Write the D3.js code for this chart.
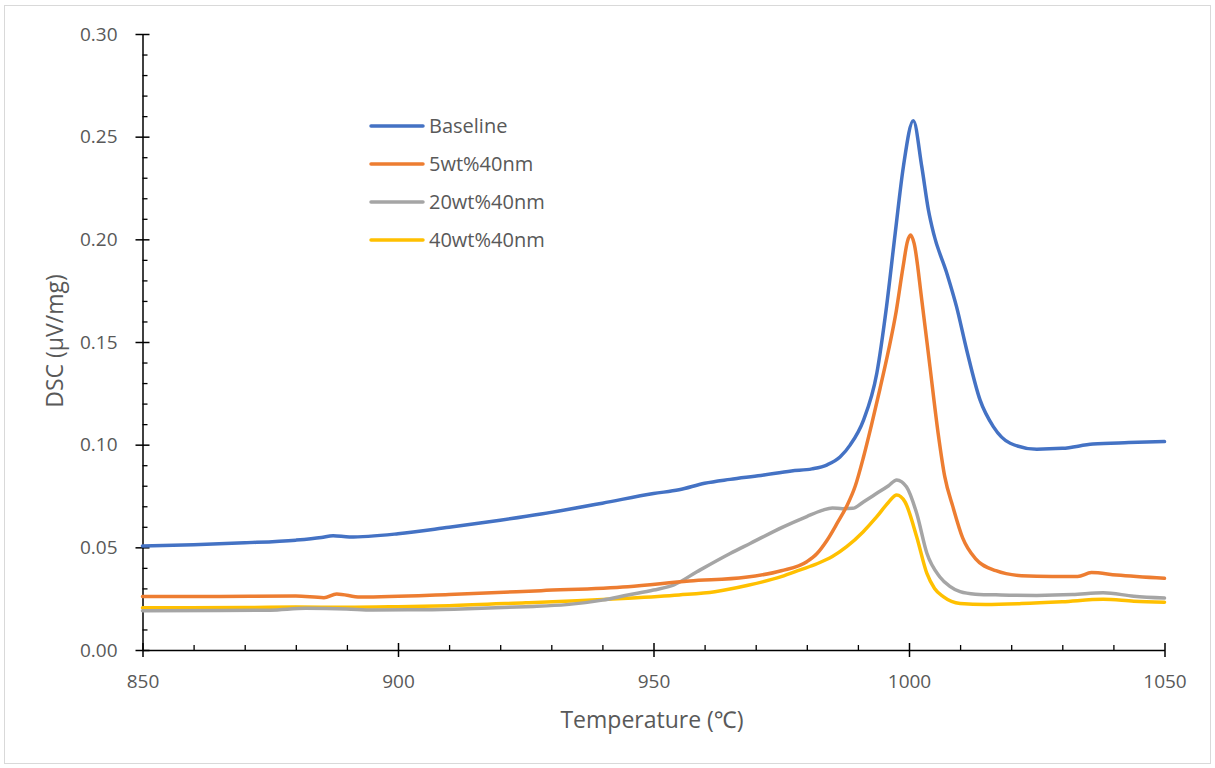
<!DOCTYPE html>
<html>
<head>
<meta charset="utf-8">
<script src="https://cdn.jsdelivr.net/npm/d3@7"></script>
<style>
  body { margin: 0; background: #fff; }
  text { font-family: "Open Sans", "Noto Sans", sans-serif; fill: #595959; }
</style>
</head>
<body>
<div id="chart"></div>
<script>
// Data (temperature in C, DSC in uV/mg)
var baselineT = [850, 860, 870, 880, 885, 887.3, 890.5, 900, 910, 920, 928, 940, 950, 955, 960, 965, 971, 977, 981, 984, 986.5, 988.5, 991.1, 993.7, 995.6, 997.3, 998.9, 1000.85, 1002.5, 1003.8, 1004.8, 1007.4, 1009.3, 1011.3, 1013.9, 1016.5, 1019.8, 1025, 1030, 1036, 1043, 1050];
var baselineV = [0.0507, 0.0513, 0.0522, 0.0535, 0.0548, 0.0557, 0.0550, 0.0566, 0.0598, 0.0632, 0.0662, 0.0715, 0.0762, 0.0780, 0.0812, 0.0831, 0.0850, 0.0872, 0.0882, 0.0902, 0.0940, 0.0999, 0.112, 0.1348, 0.1672, 0.203, 0.2354, 0.2578, 0.2354, 0.2143, 0.203, 0.1835, 0.1672, 0.146, 0.1218, 0.1088, 0.1007, 0.0978, 0.0982, 0.1003, 0.1010, 0.1015];

var wt5T = [850, 865, 880, 885.5, 888, 892.6, 910, 928, 945, 957, 968, 975, 980, 982, 984, 986, 987.8, 989.5, 991.1, 992.7, 994.3, 996, 997.5, 998.8, 999.7, 1000.3, 1001, 1002.5, 1004.1, 1005.7, 1007, 1008.6, 1010.5, 1013, 1017, 1022, 1028, 1033, 1035.7, 1040.6, 1050];
var wt5V = [0.0260, 0.0261, 0.0263, 0.0255, 0.0273, 0.0258, 0.0270, 0.0289, 0.0308, 0.0336, 0.0354, 0.0386, 0.0430, 0.0470, 0.0536, 0.0620, 0.0700, 0.0800, 0.0940, 0.110, 0.127, 0.146, 0.165, 0.186, 0.199, 0.2021, 0.198, 0.1705, 0.138, 0.1056, 0.0844, 0.0697, 0.0546, 0.0445, 0.0386, 0.0362, 0.0358, 0.0358, 0.0377, 0.0365, 0.0349];

var wt20T = [850, 865, 875, 882, 890, 895, 905, 915, 925, 933, 940, 945, 950, 954, 958.5, 965, 969, 975.4, 980, 983, 985, 987, 989, 991, 993.7, 996, 997.6, 999.5, 1001.5, 1003.5, 1006, 1008, 1010, 1013, 1018, 1025, 1032, 1038, 1044, 1050];
var wt20V = [0.0191, 0.0192, 0.0194, 0.0203, 0.0200, 0.0195, 0.0196, 0.0202, 0.0211, 0.0221, 0.0243, 0.0268, 0.0292, 0.0317, 0.0381, 0.0470, 0.0520, 0.0600, 0.0650, 0.0680, 0.0692, 0.0688, 0.0690, 0.0720, 0.0763, 0.0800, 0.0828, 0.0795, 0.0666, 0.0471, 0.0357, 0.0310, 0.0284, 0.0272, 0.0268, 0.0266, 0.0270, 0.0279, 0.0262, 0.0253];

var wt40T = [850, 870, 880, 890, 900, 910, 925, 935, 945, 955, 962, 968.5, 975, 978.7, 982, 985, 987.8, 991, 993.7, 996, 997.6, 999.2, 1001.5, 1003.5, 1005, 1006.7, 1010, 1015, 1022, 1030, 1038, 1044, 1050];
var wt40V = [0.0206, 0.0207, 0.0209, 0.0208, 0.0211, 0.0216, 0.0230, 0.0240, 0.0252, 0.0268, 0.0284, 0.0315, 0.0357, 0.0390, 0.0420, 0.0455, 0.0503, 0.0575, 0.0649, 0.0720, 0.0755, 0.0722, 0.0552, 0.0373, 0.0300, 0.0260, 0.0227, 0.0222, 0.0226, 0.0235, 0.0247, 0.0238, 0.0233];

var seriesNames = ["Baseline", "5wt%40nm", "20wt%40nm", "40wt%40nm"];
var seriesColors = ["#4472C4", "#ED7D31", "#A5A5A5", "#FFC000"];

var xMajorTicks = [850, 900, 950, 1000, 1050];
var yMajorTicks = [0, 0.05, 0.10, 0.15, 0.20, 0.25, 0.30];

var svgWidth = 1215;
var svgHeight = 768;

var margin = { top: 34, right: 50.5, bottom: 118, left: 142.5 };
var width = svgWidth - margin.left - margin.right;
var height = svgHeight - margin.top - margin.bottom;

var svg = d3.select("#chart")
  .append("svg")
  .attr("width", svgWidth)
  .attr("height", svgHeight);

// light frame round the chart
svg.append("rect")
  .attr("x", 4.5)
  .attr("y", 5.5)
  .attr("width", 1206)
  .attr("height", 758)
  .attr("fill", "none")
  .attr("stroke", "#d9d9d9")
  .attr("stroke-width", 1);

var chartGroup = svg.append("g")
  .attr("transform", `translate(${margin.left}, ${margin.top})`);

// Scales
var xScale = d3.scaleLinear().domain([850, 1050]).range([0, width]);
var yScale = d3.scaleLinear().domain([0, 0.30]).range([height, 0]);

var xMinorTicks = d3.range(850, 1051, 10).filter(d => d % 50 !== 0);
var yMinorTicks = d3.range(0, 31, 1).filter(d => d % 5 !== 0).map(d => d / 100);

// Minor ticks (inside)
chartGroup.append("g")
  .attr("transform", `translate(0, ${height})`)
  .call(d3.axisBottom(xScale).tickValues(xMinorTicks).tickSize(-5).tickFormat(""))
  .call(g => g.select(".domain").remove())
  .selectAll("line").attr("stroke", "#000").attr("stroke-width", 1.3);

chartGroup.append("g")
  .call(d3.axisLeft(yScale).tickValues(yMinorTicks).tickSize(-5).tickFormat(""))
  .call(g => g.select(".domain").remove())
  .selectAll("line").attr("stroke", "#000").attr("stroke-width", 1.3);

// Major axes with crossing ticks
var xAxis = chartGroup.append("g")
  .attr("transform", `translate(0, ${height})`)
  .call(d3.axisBottom(xScale).tickValues(xMajorTicks).tickSize(7).tickSizeOuter(0).tickPadding(18).tickFormat(d3.format("d")));
xAxis.selectAll(".tick line").attr("y1", -7);

var yAxis = chartGroup.append("g")
  .call(d3.axisLeft(yScale).tickValues(yMajorTicks).tickSize(7).tickSizeOuter(0).tickPadding(18).tickFormat(d3.format(".2f")));
yAxis.selectAll(".tick line").attr("x1", 7);

[xAxis, yAxis].forEach(function(ax) {
  ax.select(".domain").attr("stroke", "#000").attr("stroke-width", 1.5);
  ax.selectAll(".tick line").attr("stroke", "#000").attr("stroke-width", 1.5);
  ax.selectAll("text")
    .style("font-size", "19px")
    .style("font-family", "'Open Sans', sans-serif")
    .attr("fill", "#595959");
});

// Lines
var seriesData = [
  baselineT.map((t, i) => ({ t: t, v: baselineV[i] })),
  wt5T.map((t, i) => ({ t: t, v: wt5V[i] })),
  wt20T.map((t, i) => ({ t: t, v: wt20V[i] })),
  wt40T.map((t, i) => ({ t: t, v: wt40V[i] }))
];

var line = d3.line()
  .x(d => xScale(d.t))
  .y(d => yScale(d.v))
  .curve(d3.curveMonotoneX);

// draw back to front so baseline ends on top like the original
[3, 2, 1, 0].forEach(function(i) {
  chartGroup.append("path")
    .datum(seriesData[i])
    .attr("fill", "none")
    .attr("stroke", seriesColors[i])
    .attr("stroke-width", 3.5)
    .attr("stroke-linejoin", "round")
    .attr("stroke-linecap", "round")
    .attr("d", line);
});

// Legend
var legend = svg.append("g");
seriesNames.forEach(function(name, i) {
  var yPos = 126 + i * 38;
  legend.append("line")
    .attr("x1", 371).attr("x2", 423)
    .attr("y1", yPos).attr("y2", yPos)
    .attr("stroke", seriesColors[i])
    .attr("stroke-width", 3.5)
    .attr("stroke-linecap", "round");
  legend.append("text")
    .attr("x", 429)
    .attr("y", yPos)
    .attr("dy", "0.35em")
    .style("font-size", "20px")
    .text(name);
});

// Axis titles
svg.append("text")
  .attr("transform", "rotate(-90)")
  .attr("x", -341)
  .attr("y", 55)
  .attr("dy", "0.35em")
  .attr("text-anchor", "middle")
  .style("font-size", "23px")
  .text("DSC (μV/mg)");

svg.append("text")
  .attr("x", 652)
  .attr("y", 728)
  .attr("text-anchor", "middle")
  .style("font-size", "23px")
  .text("Temperature (℃)");
</script>
</body>
</html>
